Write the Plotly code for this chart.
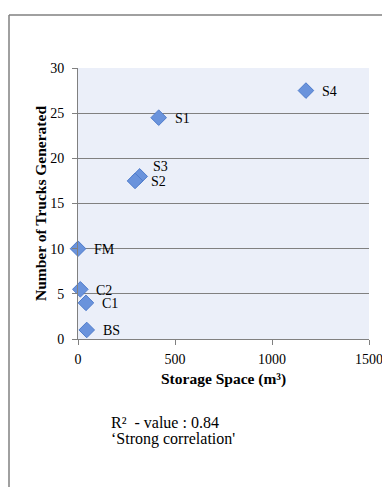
import plotly.graph_objects as go

labels = ["S4", "S1", "S3", "S2", "FM", "C2", "C1", "BS"]
storage = [1175, 416, 318, 294, 0, 12, 41, 45]
trucks = [27.5, 24.5, 18.0, 17.5, 10.0, 5.5, 4.0, 1.0]
label_dx = [14, 14, 11, 14, 14, 14, 14, 14]
label_dy = [-1, -1, 10, -1, -1, -1, -1, -1]
x_ticks = [0, 500, 1000, 1500]
y_ticks = [0, 5, 10, 15, 20, 25, 30]

W, H = 382, 487
L, R, T, B = 78, 369, 68, 339

def px(xp):
    return (xp - L) / (R - L)

def py(yp):
    return (B - yp) / (B - T)

FONT = "Liberation Serif"

fig = go.Figure()
fig.add_trace(go.Scatter(
    x=storage, y=trucks, mode="markers",
    marker=dict(symbol="diamond", size=12, color="#6A93DC",
                line=dict(color="#4F7CCB", width=1)),
    cliponaxis=False, showlegend=False,
))

annotations = [
    dict(x=xv, y=yv, text=t, xref="x", yref="y", xanchor="left",
         yanchor="middle", xshift=dx, yshift=dy, showarrow=False,
         font=dict(family=FONT, size=14, color="#000000"))
    for t, xv, yv, dx, dy in zip(labels, storage, trucks, label_dx, label_dy)
]
annotations += [
    dict(text="<b>Storage Space (m³)</b>", xref="paper", yref="paper",
         x=px(223), y=py(378.5), xanchor="center", yanchor="middle",
         showarrow=False, font=dict(family=FONT, size=15.5)),
    dict(text="<b>Number of Trucks Generated</b>", xref="paper", yref="paper",
         x=px(40), y=py(204), xanchor="center", yanchor="middle",
         textangle=-90, showarrow=False, font=dict(family=FONT, size=15.5)),
    dict(text="R²  - value : 0.84", xref="paper", yref="paper",
         x=px(109), y=py(422.5), xanchor="left", yanchor="middle",
         showarrow=False, font=dict(family=FONT, size=16)),
    dict(text="‘Strong correlation'", xref="paper", yref="paper",
         x=px(109), y=py(439), xanchor="left", yanchor="middle",
         showarrow=False, font=dict(family=FONT, size=16)),
]

fig.update_layout(
    width=W, height=H,
    margin=dict(l=L, r=W - R, t=T, b=H - B, pad=0, autoexpand=False),
    paper_bgcolor="white", plot_bgcolor="#EBEFF9",
    font=dict(family=FONT, size=14, color="#000000"),
    xaxis=dict(range=[0, 1500], tickvals=x_ticks, showgrid=False,
               showline=True, linecolor="#808080", linewidth=1,
               ticks="outside", ticklen=5, tickcolor="#808080",
               ticklabelstandoff=2, ticklabeloverflow="allow",
               automargin=False,
               zeroline=False, tickfont=dict(family=FONT, size=14)),
    yaxis=dict(range=[0, 30], tickvals=y_ticks, showgrid=True,
               gridcolor="#808080", gridwidth=1,
               showline=True, linecolor="#808080", linewidth=1,
               ticks="outside", ticklen=5, tickcolor="#808080",
               ticklabelstandoff=5, ticklabeloverflow="allow",
               automargin=False,
               zeroline=False, tickfont=dict(family=FONT, size=14)),
    shapes=[
        dict(type="line", xref="paper", yref="paper",
             x0=px(9), x1=px(382), y0=py(15), y1=py(15),
             line=dict(color="#808080", width=1.5)),
        dict(type="line", xref="paper", yref="paper",
             x0=px(9), x1=px(9), y0=py(15), y1=py(487),
             line=dict(color="#808080", width=1.5)),
    ],
    annotations=annotations,
)

fig.write_html("out.html")
